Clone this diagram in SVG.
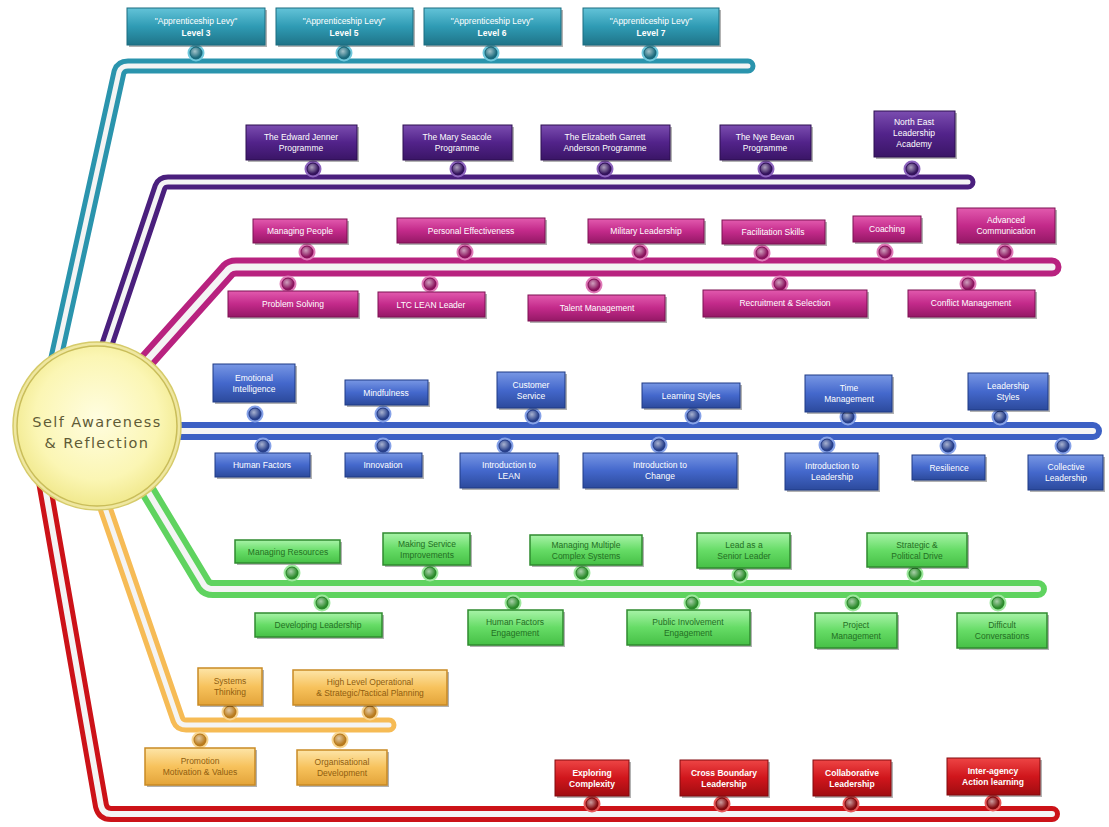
<svg xmlns="http://www.w3.org/2000/svg" width="1109" height="827" viewBox="0 0 1109 827">
<defs>
<linearGradient id="gTeal" x1="0" y1="0" x2="0" y2="1"><stop offset="0" stop-color="#63c3d8"/><stop offset="0.5" stop-color="#2f9bb4"/><stop offset="1" stop-color="#1f7488"/></linearGradient>
<linearGradient id="gPurple" x1="0" y1="0" x2="0" y2="1"><stop offset="0" stop-color="#7b4db0"/><stop offset="0.5" stop-color="#52238a"/><stop offset="1" stop-color="#3a1566"/></linearGradient>
<linearGradient id="gMagenta" x1="0" y1="0" x2="0" y2="1"><stop offset="0" stop-color="#e25aae"/><stop offset="0.5" stop-color="#c32a8a"/><stop offset="1" stop-color="#951866"/></linearGradient>
<linearGradient id="gBlue" x1="0" y1="0" x2="0" y2="1"><stop offset="0" stop-color="#7897e4"/><stop offset="0.5" stop-color="#4468cc"/><stop offset="1" stop-color="#2c4a9c"/></linearGradient>
<linearGradient id="gGreen" x1="0" y1="0" x2="0" y2="1"><stop offset="0" stop-color="#a8f3a8"/><stop offset="0.5" stop-color="#66dc66"/><stop offset="1" stop-color="#46c046"/></linearGradient>
<linearGradient id="gOrange" x1="0" y1="0" x2="0" y2="1"><stop offset="0" stop-color="#fde5a8"/><stop offset="0.5" stop-color="#f7c25c"/><stop offset="1" stop-color="#e3a43a"/></linearGradient>
<linearGradient id="gRed" x1="0" y1="0" x2="0" y2="1"><stop offset="0" stop-color="#ee4545"/><stop offset="0.5" stop-color="#d0161c"/><stop offset="1" stop-color="#a00c10"/></linearGradient>
<radialGradient id="gloss" cx="0.4" cy="0.35" r="0.6"><stop offset="0" stop-color="#ffffff" stop-opacity="0.6"/><stop offset="1" stop-color="#ffffff" stop-opacity="0"/></radialGradient>
<radialGradient id="gCore" cx="0.5" cy="0.45" r="0.55"><stop offset="0" stop-color="#fffde0"/><stop offset="0.7" stop-color="#fbf6b4"/><stop offset="1" stop-color="#f1e98e"/></radialGradient>
</defs>
<style>
text{font-family:"Liberation Sans",Arial,sans-serif;font-size:8.5px;text-anchor:middle;fill:#ffffff}
.sh{fill:#000;opacity:0.3}
.teal .box{fill:url(#gTeal);stroke:#1b6d80;stroke-width:1}
.purple .box{fill:url(#gPurple);stroke:#2c0e50;stroke-width:1}
.magenta .box{fill:url(#gMagenta);stroke:#7c1052;stroke-width:1}
.blue .box{fill:url(#gBlue);stroke:#1f3a85;stroke-width:1}
.green .box{fill:url(#gGreen);stroke:#2f8a2f;stroke-width:1.5}
.orange .box{fill:url(#gOrange);stroke:#c98a25;stroke-width:1.5}
.red .box{fill:url(#gRed);stroke:#820a0e;stroke-width:1}
.green text{fill:#236f23}
.orange text{fill:#8f5d0f}
.teal .j{fill:#1a6a7c;stroke:#6fc8dc}
.purple .j{fill:#33125c;stroke:#8d64bd}
.magenta .j{fill:#8a135d;stroke:#e07ab8}
.blue .j{fill:#273f8a;stroke:#86a2e8}
.green .j{fill:#2a8a2a;stroke:#9ee89e}
.orange .j{fill:#b87a1c;stroke:#f8d590}
.red .j{fill:#820a0e;stroke:#e85858}
.j{stroke-width:2;r:7.5px}
.hl{fill:url(#gloss);r:5.5px}
.tube{fill:none;stroke-linecap:round;stroke-linejoin:round}
.inner{fill:none;stroke:#f4f4f4;stroke-linecap:round;stroke-linejoin:round}
</style>
<rect width="1109" height="827" fill="#ffffff"/>

<g id="connectors">
<path class="tube" d="M 50 385 L 119 72 Q 121 66 128 66 L 748 66" stroke="#2a94ad" stroke-width="15"/>
<path class="inner" d="M 50 385 L 119 72 Q 121 66 128 66 L 748 66" stroke-width="5"/>
<path class="tube" d="M 95 380 L 160 187 Q 162 182 168 182 L 968 182" stroke="#4a1f7d" stroke-width="15"/>
<path class="inner" d="M 95 380 L 160 187 Q 162 182 168 182 L 968 182" stroke-width="5"/>
<path class="tube" d="M 125 385 L 228 270 Q 231 267 236 267 L 1052 267" stroke="#b8227f" stroke-width="19"/>
<path class="inner" d="M 125 385 L 228 270 Q 231 267 236 267 L 1052 267" stroke-width="7"/>
<path class="tube" d="M 150 431 L 1093 431" stroke="#3c60c4" stroke-width="18"/>
<path class="inner" d="M 150 431 L 1093 431" stroke-width="6"/>
<path class="tube" d="M 135 470 L 204 585 Q 207 589 213 589 L 1038 589" stroke="#5fd35f" stroke-width="18"/>
<path class="inner" d="M 135 470 L 204 585 Q 207 589 213 589 L 1038 589" stroke-width="6"/>
<path class="tube" d="M 92 470 L 178 720 Q 180 725 186 725 L 389 725" stroke="#f6bb55" stroke-width="15"/>
<path class="inner" d="M 92 470 L 178 720 Q 180 725 186 725 L 389 725" stroke-width="5"/>
<path class="tube" d="M 35 430 L 101 806 Q 103 814 111 814 L 1052 814" stroke="#cc1218" stroke-width="16"/>
<path class="inner" d="M 35 430 L 101 806 Q 103 814 111 814 L 1052 814" stroke-width="6"/>
</g>

<g id="core">
<circle cx="97" cy="426" r="84" fill="#efe7a0" stroke="#d6cb6a" stroke-width="1.5"/>
<circle cx="97" cy="426" r="80" fill="url(#gCore)" stroke="#c9bd5a" stroke-width="1.5"/>
<text x="97" y="427" style="font-family:'DejaVu Sans',Verdana,sans-serif;font-size:14.5px;letter-spacing:1.4px;fill:#5f5b36">Self Awareness</text>
<text x="97" y="448" style="font-family:'DejaVu Sans',Verdana,sans-serif;font-size:14.5px;letter-spacing:1.4px;fill:#5f5b36">&amp; Reflection</text>
</g>

<!-- Teal -->
<g id="teal1" class="teal"><circle class="j" cx="196" cy="53" r="7.5"/><circle class="hl" cx="196" cy="53" r="5.5"/><rect class="sh" x="129" y="10" width="138" height="37"/><rect class="box" x="127" y="8" width="138" height="37"/><text x="196" y="24">"Apprenticeship Levy"</text><text x="196" y="36" font-weight="bold">Level 3</text></g>
<g id="teal2" class="teal"><circle class="j" cx="344" cy="53" r="7.5"/><circle class="hl" cx="344" cy="53" r="5.5"/><rect class="sh" x="278" y="10" width="137" height="37"/><rect class="box" x="276" y="8" width="137" height="37"/><text x="344" y="24">"Apprenticeship Levy"</text><text x="344" y="36" font-weight="bold">Level 5</text></g>
<g id="teal3" class="teal"><circle class="j" cx="491" cy="53" r="7.5"/><circle class="hl" cx="491" cy="53" r="5.5"/><rect class="sh" x="426" y="10" width="137" height="37"/><rect class="box" x="424" y="8" width="137" height="37"/><text x="492" y="24">"Apprenticeship Levy"</text><text x="492" y="36" font-weight="bold">Level 6</text></g>
<g id="teal4" class="teal"><circle class="j" cx="650" cy="53" r="7.5"/><circle class="hl" cx="650" cy="53" r="5.5"/><rect class="sh" x="585" y="10" width="136" height="37"/><rect class="box" x="583" y="8" width="136" height="37"/><text x="651" y="24">"Apprenticeship Levy"</text><text x="651" y="36" font-weight="bold">Level 7</text></g>

<!-- Purple -->
<g id="purple1" class="purple"><circle class="j" cx="313" cy="169" r="7.5"/><circle class="hl" cx="313" cy="169" r="5.5"/><rect class="sh" x="248" y="127" width="111" height="35"/><rect class="box" x="246" y="125" width="111" height="35"/><text x="301" y="140">The Edward Jenner</text><text x="301" y="151">Programme</text></g>
<g id="purple2" class="purple"><circle class="j" cx="458" cy="169" r="7.5"/><circle class="hl" cx="458" cy="169" r="5.5"/><rect class="sh" x="405" y="127" width="109" height="35"/><rect class="box" x="403" y="125" width="109" height="35"/><text x="457" y="140">The Mary Seacole</text><text x="457" y="151">Programme</text></g>
<g id="purple3" class="purple"><circle class="j" cx="605" cy="169" r="7.5"/><circle class="hl" cx="605" cy="169" r="5.5"/><rect class="sh" x="543" y="127" width="129" height="35"/><rect class="box" x="541" y="125" width="129" height="35"/><text x="605" y="140">The Elizabeth Garrett</text><text x="605" y="151">Anderson Programme</text></g>
<g id="purple4" class="purple"><circle class="j" cx="766" cy="169" r="7.5"/><circle class="hl" cx="766" cy="169" r="5.5"/><rect class="sh" x="722" y="127" width="91" height="35"/><rect class="box" x="720" y="125" width="91" height="35"/><text x="765" y="140">The Nye Bevan</text><text x="765" y="151">Programme</text></g>
<g id="purple5" class="purple"><circle class="j" cx="912" cy="169" r="7.5"/><circle class="hl" cx="912" cy="169" r="5.5"/><rect class="sh" x="876" y="113" width="81" height="46"/><rect class="box" x="874" y="111" width="81" height="46"/><text x="914" y="125">North East</text><text x="914" y="136">Leadership</text><text x="914" y="147">Academy</text></g>

<!-- Magenta -->
<g id="mag1" class="magenta"><circle class="j" cx="307" cy="252" r="7.5"/><circle class="hl" cx="307" cy="252" r="5.5"/><rect class="sh" x="255" y="221" width="94" height="24"/><rect class="box" x="253" y="219" width="94" height="24"/><text x="300" y="234">Managing People</text></g>
<g id="mag2" class="magenta"><circle class="j" cx="465" cy="252" r="7.5"/><circle class="hl" cx="465" cy="252" r="5.5"/><rect class="sh" x="399" y="220" width="148" height="25"/><rect class="box" x="397" y="218" width="148" height="25"/><text x="471" y="234">Personal Effectiveness</text></g>
<g id="mag3" class="magenta"><circle class="j" cx="640" cy="252" r="7.5"/><circle class="hl" cx="640" cy="252" r="5.5"/><rect class="sh" x="590" y="221" width="116" height="24"/><rect class="box" x="588" y="219" width="116" height="24"/><text x="646" y="234">Military Leadership</text></g>
<g id="mag4" class="magenta"><circle class="j" cx="762" cy="253" r="7.5"/><circle class="hl" cx="762" cy="253" r="5.5"/><rect class="sh" x="724" y="222" width="103" height="24"/><rect class="box" x="722" y="220" width="103" height="24"/><text x="773" y="235">Facilitation Skills</text></g>
<g id="mag5" class="magenta"><circle class="j" cx="885" cy="252" r="7.5"/><circle class="hl" cx="885" cy="252" r="5.5"/><rect class="sh" x="855" y="218" width="68" height="26"/><rect class="box" x="853" y="216" width="68" height="26"/><text x="887" y="232">Coaching</text></g>
<g id="mag6" class="magenta"><circle class="j" cx="1005" cy="252" r="7.5"/><circle class="hl" cx="1005" cy="252" r="5.5"/><rect class="sh" x="959" y="210" width="98" height="35"/><rect class="box" x="957" y="208" width="98" height="35"/><text x="1006" y="223">Advanced</text><text x="1006" y="234">Communication</text></g>
<g id="mag7" class="magenta"><circle class="j" cx="288" cy="284" r="7.5"/><circle class="hl" cx="288" cy="284" r="5.5"/><rect class="sh" x="230" y="293" width="130" height="26"/><rect class="box" x="228" y="291" width="130" height="26"/><text x="293" y="307">Problem Solving</text></g>
<g id="mag8" class="magenta"><circle class="j" cx="430" cy="284" r="7.5"/><circle class="hl" cx="430" cy="284" r="5.5"/><rect class="sh" x="380" y="294" width="107" height="25"/><rect class="box" x="378" y="292" width="107" height="25"/><text x="431" y="308">LTC LEAN Leader</text></g>
<g id="mag9" class="magenta"><circle class="j" cx="594" cy="285" r="7.5"/><circle class="hl" cx="594" cy="285" r="5.5"/><rect class="sh" x="530" y="297" width="137" height="26"/><rect class="box" x="528" y="295" width="137" height="26"/><text x="597" y="311">Talent Management</text></g>
<g id="mag10" class="magenta"><circle class="j" cx="780" cy="284" r="7.5"/><circle class="hl" cx="780" cy="284" r="5.5"/><rect class="sh" x="705" y="292" width="164" height="27"/><rect class="box" x="703" y="290" width="164" height="27"/><text x="785" y="306">Recruitment &amp; Selection</text></g>
<g id="mag11" class="magenta"><circle class="j" cx="968" cy="284" r="7.5"/><circle class="hl" cx="968" cy="284" r="5.5"/><rect class="sh" x="910" y="292" width="127" height="27"/><rect class="box" x="908" y="290" width="127" height="27"/><text x="971" y="306">Conflict Management</text></g>

<!-- Blue -->
<g id="blue1" class="blue"><circle class="j" cx="255" cy="414" r="7.5"/><circle class="hl" cx="255" cy="414" r="5.5"/><rect class="sh" x="215" y="366" width="82" height="38"/><rect class="box" x="213" y="364" width="82" height="38"/><text x="254" y="381">Emotional</text><text x="254" y="392">Intelligence</text></g>
<g id="blue2" class="blue"><circle class="j" cx="383" cy="414" r="7.5"/><circle class="hl" cx="383" cy="414" r="5.5"/><rect class="sh" x="347" y="382" width="83" height="25"/><rect class="box" x="345" y="380" width="83" height="25"/><text x="386" y="396">Mindfulness</text></g>
<g id="blue3" class="blue"><circle class="j" cx="533" cy="416" r="7.5"/><circle class="hl" cx="533" cy="416" r="5.5"/><rect class="sh" x="499" y="374" width="68" height="36"/><rect class="box" x="497" y="372" width="68" height="36"/><text x="531" y="388">Customer</text><text x="531" y="399">Service</text></g>
<g id="blue4" class="blue"><circle class="j" cx="693" cy="416" r="7.5"/><circle class="hl" cx="693" cy="416" r="5.5"/><rect class="sh" x="644" y="385" width="98" height="25"/><rect class="box" x="642" y="383" width="98" height="25"/><text x="691" y="399">Learning Styles</text></g>
<g id="blue5" class="blue"><circle class="j" cx="848" cy="417" r="7.5"/><circle class="hl" cx="848" cy="417" r="5.5"/><rect class="sh" x="807" y="377" width="87" height="37"/><rect class="box" x="805" y="375" width="87" height="37"/><text x="849" y="391">Time</text><text x="849" y="402">Management</text></g>
<g id="blue6" class="blue"><circle class="j" cx="1000" cy="417" r="7.5"/><circle class="hl" cx="1000" cy="417" r="5.5"/><rect class="sh" x="970" y="375" width="80" height="37"/><rect class="box" x="968" y="373" width="80" height="37"/><text x="1008" y="389">Leadership</text><text x="1008" y="400">Styles</text></g>
<g id="blue7" class="blue"><circle class="j" cx="263" cy="446" r="7.5"/><circle class="hl" cx="263" cy="446" r="5.5"/><rect class="sh" x="217" y="455" width="95" height="24"/><rect class="box" x="215" y="453" width="95" height="24"/><text x="262" y="468">Human Factors</text></g>
<g id="blue8" class="blue"><circle class="j" cx="383" cy="446" r="7.5"/><circle class="hl" cx="383" cy="446" r="5.5"/><rect class="sh" x="347" y="455" width="77" height="24"/><rect class="box" x="345" y="453" width="77" height="24"/><text x="383" y="468">Innovation</text></g>
<g id="blue9" class="blue"><circle class="j" cx="505" cy="446" r="7.5"/><circle class="hl" cx="505" cy="446" r="5.5"/><rect class="sh" x="462" y="455" width="98" height="35"/><rect class="box" x="460" y="453" width="98" height="35"/><text x="509" y="468">Introduction to</text><text x="509" y="479">LEAN</text></g>
<g id="blue10" class="blue"><circle class="j" cx="659" cy="445" r="7.5"/><circle class="hl" cx="659" cy="445" r="5.5"/><rect class="sh" x="585" y="455" width="154" height="35"/><rect class="box" x="583" y="453" width="154" height="35"/><text x="660" y="468">Introduction to</text><text x="660" y="479">Change</text></g>
<g id="blue11" class="blue"><circle class="j" cx="827" cy="445" r="7.5"/><circle class="hl" cx="827" cy="445" r="5.5"/><rect class="sh" x="787" y="455" width="93" height="37"/><rect class="box" x="785" y="453" width="93" height="37"/><text x="832" y="469">Introduction to</text><text x="832" y="480">Leadership</text></g>
<g id="blue12" class="blue"><circle class="j" cx="948" cy="446" r="7.5"/><circle class="hl" cx="948" cy="446" r="5.5"/><rect class="sh" x="914" y="457" width="73" height="25"/><rect class="box" x="912" y="455" width="73" height="25"/><text x="949" y="471">Resilience</text></g>
<g id="blue13" class="blue"><circle class="j" cx="1063" cy="446" r="7.5"/><circle class="hl" cx="1063" cy="446" r="5.5"/><rect class="sh" x="1030" y="457" width="75" height="35"/><rect class="box" x="1028" y="455" width="75" height="35"/><text x="1066" y="470">Collective</text><text x="1066" y="481">Leadership</text></g>

<!-- Green -->
<g id="green1" class="green"><circle class="j" cx="292" cy="573" r="7.5"/><circle class="hl" cx="292" cy="573" r="5.5"/><rect class="sh" x="237" y="542" width="105" height="23"/><rect class="box" x="235" y="540" width="105" height="23"/><text x="288" y="555">Managing Resources</text></g>
<g id="green2" class="green"><circle class="j" cx="430" cy="573" r="7.5"/><circle class="hl" cx="430" cy="573" r="5.5"/><rect class="sh" x="385" y="535" width="87" height="32"/><rect class="box" x="383" y="533" width="87" height="32"/><text x="427" y="547">Making Service</text><text x="427" y="558">Improvements</text></g>
<g id="green3" class="green"><circle class="j" cx="582" cy="573" r="7.5"/><circle class="hl" cx="582" cy="573" r="5.5"/><rect class="sh" x="532" y="537" width="112" height="30"/><rect class="box" x="530" y="535" width="112" height="30"/><text x="586" y="548">Managing Multiple</text><text x="586" y="559">Complex Systems</text></g>
<g id="green4" class="green"><circle class="j" cx="740" cy="575" r="7.5"/><circle class="hl" cx="740" cy="575" r="5.5"/><rect class="sh" x="699" y="535" width="93" height="35"/><rect class="box" x="697" y="533" width="93" height="35"/><text x="744" y="548">Lead as a</text><text x="744" y="559">Senior Leader</text></g>
<g id="green5" class="green"><circle class="j" cx="915" cy="574" r="7.5"/><circle class="hl" cx="915" cy="574" r="5.5"/><rect class="sh" x="869" y="535" width="100" height="34"/><rect class="box" x="867" y="533" width="100" height="34"/><text x="917" y="548">Strategic &amp;</text><text x="917" y="559">Political Drive</text></g>
<g id="green6" class="green"><circle class="j" cx="322" cy="603" r="7.5"/><circle class="hl" cx="322" cy="603" r="5.5"/><rect class="sh" x="257" y="615" width="127" height="24"/><rect class="box" x="255" y="613" width="127" height="24"/><text x="318" y="628">Developing Leadership</text></g>
<g id="green7" class="green"><circle class="j" cx="513" cy="603" r="7.5"/><circle class="hl" cx="513" cy="603" r="5.5"/><rect class="sh" x="470" y="612" width="95" height="35"/><rect class="box" x="468" y="610" width="95" height="35"/><text x="515" y="625">Human Factors</text><text x="515" y="636">Engagement</text></g>
<g id="green8" class="green"><circle class="j" cx="692" cy="603" r="7.5"/><circle class="hl" cx="692" cy="603" r="5.5"/><rect class="sh" x="629" y="612" width="123" height="35"/><rect class="box" x="627" y="610" width="123" height="35"/><text x="688" y="625">Public Involvement</text><text x="688" y="636">Engagement</text></g>
<g id="green9" class="green"><circle class="j" cx="853" cy="603" r="7.5"/><circle class="hl" cx="853" cy="603" r="5.5"/><rect class="sh" x="817" y="615" width="82" height="35"/><rect class="box" x="815" y="613" width="82" height="35"/><text x="856" y="628">Project</text><text x="856" y="639">Management</text></g>
<g id="green10" class="green"><circle class="j" cx="998" cy="603" r="7.5"/><circle class="hl" cx="998" cy="603" r="5.5"/><rect class="sh" x="959" y="615" width="90" height="35"/><rect class="box" x="957" y="613" width="90" height="35"/><text x="1002" y="628">Difficult</text><text x="1002" y="639">Conversations</text></g>

<!-- Orange -->
<g id="orange1" class="orange"><circle class="j" cx="230" cy="712" r="7.5"/><circle class="hl" cx="230" cy="712" r="5.5"/><rect class="sh" x="200" y="670" width="64" height="37"/><rect class="box" x="198" y="668" width="64" height="37"/><text x="230" y="684">Systems</text><text x="230" y="695">Thinking</text></g>
<g id="orange2" class="orange"><circle class="j" cx="370" cy="712" r="7.5"/><circle class="hl" cx="370" cy="712" r="5.5"/><rect class="sh" x="295" y="672" width="154" height="35"/><rect class="box" x="293" y="670" width="154" height="35"/><text x="370" y="685">High Level Operational</text><text x="370" y="696">&amp; Strategic/Tactical Planning</text></g>
<g id="orange3" class="orange"><circle class="j" cx="200" cy="740" r="7.5"/><circle class="hl" cx="200" cy="740" r="5.5"/><rect class="sh" x="147" y="750" width="110" height="37"/><rect class="box" x="145" y="748" width="110" height="37"/><text x="200" y="764">Promotion</text><text x="200" y="775">Motivation &amp; Values</text></g>
<g id="orange4" class="orange"><circle class="j" cx="340" cy="740" r="7.5"/><circle class="hl" cx="340" cy="740" r="5.5"/><rect class="sh" x="299" y="752" width="90" height="35"/><rect class="box" x="297" y="750" width="90" height="35"/><text x="342" y="765">Organisational</text><text x="342" y="776">Development</text></g>

<!-- Red -->
<g id="red1" class="red"><circle class="j" cx="592" cy="804" r="7.5"/><circle class="hl" cx="592" cy="804" r="5.5"/><rect class="sh" x="557" y="762" width="74" height="36"/><rect class="box" x="555" y="760" width="74" height="36"/><text x="592" y="776" font-weight="bold">Exploring</text><text x="592" y="787" font-weight="bold">Complexity</text></g>
<g id="red2" class="red"><circle class="j" cx="722" cy="804" r="7.5"/><circle class="hl" cx="722" cy="804" r="5.5"/><rect class="sh" x="682" y="762" width="88" height="36"/><rect class="box" x="680" y="760" width="88" height="36"/><text x="724" y="776" font-weight="bold">Cross Boundary</text><text x="724" y="787" font-weight="bold">Leadership</text></g>
<g id="red3" class="red"><circle class="j" cx="851" cy="804" r="7.5"/><circle class="hl" cx="851" cy="804" r="5.5"/><rect class="sh" x="815" y="762" width="78" height="36"/><rect class="box" x="813" y="760" width="78" height="36"/><text x="852" y="776" font-weight="bold">Collaborative</text><text x="852" y="787" font-weight="bold">Leadership</text></g>
<g id="red4" class="red"><circle class="j" cx="993" cy="803" r="7.5"/><circle class="hl" cx="993" cy="803" r="5.5"/><rect class="sh" x="949" y="760" width="93" height="37"/><rect class="box" x="947" y="758" width="93" height="37"/><text x="993" y="774" font-weight="bold">Inter-agency</text><text x="993" y="785" font-weight="bold">Action learning</text></g>
</svg>
